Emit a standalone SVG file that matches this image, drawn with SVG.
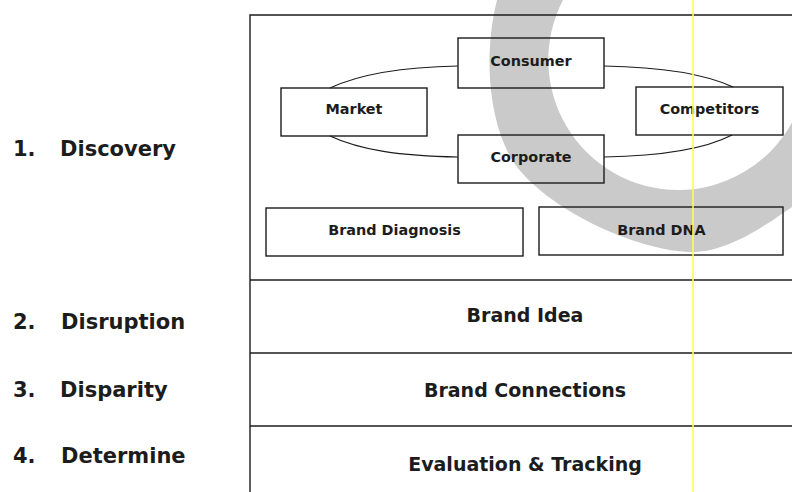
<svg xmlns="http://www.w3.org/2000/svg" width="792" height="492" viewBox="0 0 792 492">
<style>
  .box { fill: none; stroke: #1c1c1c; stroke-width: 1.4; }
  .line { fill: none; stroke: #1c1c1c; stroke-width: 1.4; }
  .conn { fill: none; stroke: #1c1c1c; stroke-width: 1.2; }
  text { font-family: "DejaVu Sans", Verdana, "Liberation Sans", sans-serif; font-weight: bold; fill: #1c1c1c; }
  .sm { font-size: 14.4px; text-anchor: middle; }
  .lg { font-size: 19px; text-anchor: middle; }
  .step { font-size: 21px; }
</style>
<rect x="0" y="0" width="792" height="492" fill="#ffffff"/>

<g id="watermark">
  <path d="M497,0 C482,60 490,130 517,167 C552,212 640,252 693,252 C730,252 770,222 792,207 L792,122.5 A130,130 0 0 1 678,190 A130,130 0 0 1 563,0 Z" fill="#cacaca"/>
</g>

<g id="frame">
  <path class="line" d="M250,492 L250,15 L792,15"/>
  <path class="line" d="M250,280 L792,280"/>
  <path class="line" d="M250,353 L792,353"/>
  <path class="line" d="M250,426 L792,426"/>
</g>

<g id="connectors">
  <path class="conn" d="M330,88 C360,74 400,67 458,66"/>
  <path class="conn" d="M604,66 C660,67 705,74 733,87"/>
  <path class="conn" d="M330,136 C360,150 400,156 458,157"/>
  <path class="conn" d="M604,157 C660,156 705,149 732,135"/>
</g>

<g id="consumer">
  <rect class="box" x="458" y="38" width="146" height="50"/>
  <text class="sm" x="531" y="66">Consumer</text>
</g>
<g id="market">
  <rect class="box" x="281" y="88" width="146" height="48"/>
  <text class="sm" x="354" y="114">Market</text>
</g>
<g id="competitors">
  <rect class="box" x="636" y="87" width="147" height="48"/>
  <text class="sm" x="709.5" y="114">Competitors</text>
</g>
<g id="corporate">
  <rect class="box" x="458" y="135" width="146" height="48"/>
  <text class="sm" x="531" y="162">Corporate</text>
</g>
<g id="brand-diagnosis">
  <rect class="box" x="266" y="208" width="257" height="48"/>
  <text class="sm" x="394.5" y="234.5">Brand Diagnosis</text>
</g>
<g id="brand-dna">
  <rect class="box" x="539" y="207" width="244" height="48"/>
  <text class="sm" x="661.5" y="234.5">Brand DNA</text>
</g>
<g id="brand-idea">
  <text class="lg" x="525" y="322">Brand Idea</text>
</g>
<g id="brand-connections">
  <text class="lg" x="525" y="397">Brand Connections</text>
</g>
<g id="evaluation">
  <text class="lg" x="525" y="471">Evaluation &amp; Tracking</text>
</g>

<g id="steps">
  <text class="step" y="156"><tspan x="13">1.</tspan><tspan x="60">Discovery</tspan></text>
  <text class="step" y="329"><tspan x="13">2.</tspan><tspan x="61">Disruption</tspan></text>
  <text class="step" y="397"><tspan x="13">3.</tspan><tspan x="60">Disparity</tspan></text>
  <text class="step" y="463"><tspan x="13">4.</tspan><tspan x="61">Determine</tspan></text>
</g>

<g id="guide">
  <line x1="693" y1="0" x2="693" y2="492" stroke="#ffff40" stroke-opacity="0.8" stroke-width="2"/>
</g>
</svg>
